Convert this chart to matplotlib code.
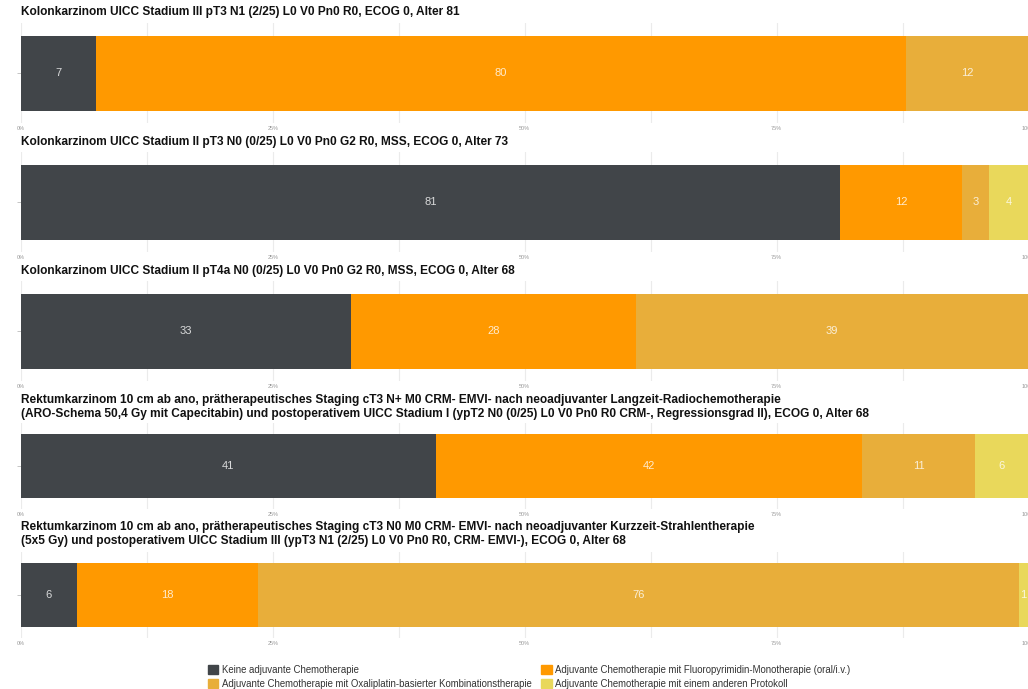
import matplotlib.pyplot as plt
import matplotlib.patches as mpatches
import matplotlib.ticker as mticker
import numpy as np

plt.rcParams['font.family'] = ['Liberation Sans', 'DejaVu Sans']

# Fälle (Titel), Anteile in % je Kategorie, angezeigte Werte
titel = [
    "Kolonkarzinom UICC Stadium III pT3 N1 (2/25) L0 V0 Pn0 R0, ECOG 0, Alter 81",
    "Kolonkarzinom UICC Stadium II pT3 N0 (0/25) L0 V0 Pn0 G2 R0, MSS, ECOG 0, Alter 73",
    "Kolonkarzinom UICC Stadium II pT4a N0 (0/25) L0 V0 Pn0 G2 R0, MSS, ECOG 0, Alter 68",
    "Rektumkarzinom 10 cm ab ano, prätherapeutisches Staging cT3 N+ M0 CRM- EMVI- nach neoadjuvanter Langzeit-Radiochemotherapie\n"
    "(ARO-Schema 50,4 Gy mit Capecitabin) und postoperativem UICC Stadium I (ypT2 N0 (0/25) L0 V0 Pn0 R0 CRM-, Regressionsgrad II), ECOG 0, Alter 68",
    "Rektumkarzinom 10 cm ab ano, prätherapeutisches Staging cT3 N0 M0 CRM- EMVI- nach neoadjuvanter Kurzzeit-Strahlentherapie\n"
    "(5x5 Gy) und postoperativem UICC Stadium III (ypT3 N1 (2/25) L0 V0 Pn0 R0, CRM- EMVI-), ECOG 0, Alter 68",
]
kategorien = [
    "Keine adjuvante Chemotherapie",
    "Adjuvante Chemotherapie mit Fluoropyrimidin-Monotherapie (oral/i.v.)",
    "Adjuvante Chemotherapie mit Oxaliplatin-basierter Kombinationstherapie",
    "Adjuvante Chemotherapie mit einem anderen Protokoll",
]
farben = ["#414549", "#FF9900", "#E8AE3A", "#E9D85B"]

keine = [7.5, 81.3, 32.8, 41.2, 5.6]
fluoro = [80.3, 12.1, 28.2, 42.3, 17.9]
oxali = [12.2, 2.7, 39.0, 11.2, 75.5]
andere = [0.0, 3.9, 0.0, 5.3, 1.0]

lab_keine = [7, 81, 33, 41, 6]
lab_fluoro = [80, 12, 28, 42, 18]
lab_oxali = [12, 3, 39, 11, 76]
lab_andere = [None, 4, None, 6, 1]

werte = [keine, fluoro, oxali, andere]
labels = [lab_keine, lab_fluoro, lab_oxali, lab_andere]

W, H = 1028, 689
fig = plt.figure(figsize=(W / 100, H / 100), dpi=100)

# Achsen in Pixeln (oben, unten) und Titelpositionen
achsen_px = [(23, 123), (152, 252), (281, 381), (423, 509), (552, 638)]
titel_y = [12, 142, 271, 407, 534]
x0, x1 = 20.7, 20.7 + 1008

for i in range(5):
    top, bot = achsen_px[i]
    ax = fig.add_axes([x0 / W, 1 - bot / H, (x1 - x0) / W, (bot - top) / H])
    links = 0
    for k in range(4):
        v = werte[k][i]
        if v > 0:
            ax.barh(0, v, left=links, height=0.75, color=farben[k], edgecolor='none', zorder=2)
            if labels[k][i] is not None:
                ax.text(links + v / 2, 0, str(labels[k][i]), color='white', alpha=0.8,
                        ha='center', va='center', fontsize=8, zorder=3)
        links += v
    ax.set_xlim(0, 100)
    ax.set_ylim(-0.5, 0.5)
    ax.set_xticks([0, 25, 50, 75, 100])
    ax.set_xticks(np.arange(12.5, 100, 25), minor=True)
    ax.xaxis.set_major_formatter(mticker.FormatStrFormatter('%d%%'))
    ax.tick_params(axis='x', which='both', length=0, labelsize=4, labelcolor='#999999', pad=2)
    ax.set_yticks([0])
    ax.set_yticklabels([''])
    ax.tick_params(axis='y', length=3, color='#bbbbbb', width=0.6)
    ax.grid(axis='x', which='both', color='#ebebeb', linewidth=0.8, zorder=0)
    for s in ax.spines.values():
        s.set_visible(False)
    ax.set_axisbelow(True)
    fig.text(x0 / W, 1 - titel_y[i] / H, titel[i], fontsize=8.6, fontweight='bold',
             ha='left', va='center', linespacing=1.12, color='#111111')

handles = [mpatches.Patch(color=farben[k], label=kategorien[k]) for k in range(4)]
order = [0, 2, 1, 3]
fig.legend([handles[k] for k in order], [kategorien[k] for k in order], ncol=2,
           loc='center', bbox_to_anchor=(0.515, 1 - 677 / H), frameon=False,
           fontsize=6.9, handlelength=1.05, handleheight=1.05, handletextpad=0.4,
           columnspacing=1.0, labelspacing=0.42, labelcolor='#333333')

plt.savefig("out.png", dpi=100)
